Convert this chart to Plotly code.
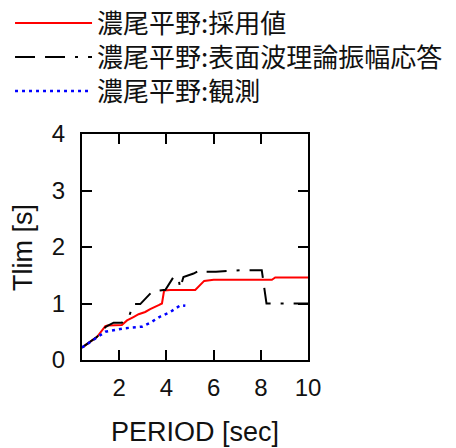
import plotly.graph_objects as go

# 濃尾平野:採用値
red_x = [0.42, 1.06, 1.41, 1.5, 2.11, 2.33, 2.6, 2.82, 3.1, 3.31, 3.67, 3.81, 3.9, 4.16, 5.22, 5.6, 6.0, 8.47, 8.61, 10.0]
red_y = [0.22, 0.41, 0.60, 0.61, 0.62, 0.70, 0.76, 0.81, 0.85, 0.90, 0.97, 1.00, 1.23, 1.24, 1.24, 1.40, 1.42, 1.42, 1.46, 1.46]

# 濃尾平野:表面波理論振幅応答
blk_x = [0.42, 1.06, 1.41, 1.48, 1.76, 2.11, 2.44, 2.6, 2.89, 3.39, 3.88, 3.95, 4.3, 4.51, 4.58, 4.72, 5.15, 5.43, 5.7, 6.1, 7.1, 8.04, 8.24, 10.0]
blk_y = [0.22, 0.41, 0.58, 0.60, 0.66, 0.66, 0.80, 0.99, 0.99, 1.21, 1.24, 1.24, 1.47, 1.45, 1.27, 1.47, 1.53, 1.59, 1.56, 1.56, 1.59, 1.59, 1.00, 1.00]

# 濃尾平野:観測
blu_x = [0.42, 1.06, 1.41, 2.18, 2.96, 3.31, 3.74, 4.16, 4.4, 4.6, 4.8]
blu_y = [0.22, 0.41, 0.50, 0.56, 0.59, 0.66, 0.77, 0.85, 0.92, 0.97, 0.96]

names = ["濃尾平野:採用値", "濃尾平野:表面波理論振幅応答", "濃尾平野:観測"]

x_ticks = [2, 4, 6, 8, 10]
y_ticks = [0, 1, 2, 3, 4]
x_title = "PERIOD [sec]"
y_title = "Tlim [s]"

fig = go.Figure()
fig.add_trace(go.Scatter(x=red_x, y=red_y, mode="lines", name=names[0], legend="legend",
                         line=dict(color="#ff0000", width=2)))
fig.add_trace(go.Scatter(x=blk_x, y=blk_y, mode="lines", name=names[1], legend="legend2",
                         line=dict(color="#000000", width=2, dash="20px,10px,20px,10px,3px,10px")))
fig.add_trace(go.Scatter(x=blu_x, y=blu_y, mode="lines", name=names[2], legend="legend3",
                         line=dict(color="#0000ff", width=2.5, dash="3px,4px")))

axis_common = dict(showline=True, linecolor="black", linewidth=2, mirror="ticks",
                   ticks="inside", ticklen=10, tickwidth=1.5, tickcolor="black",
                   showgrid=False, zeroline=False,
                   tickfont=dict(size=24, color="#111111", family="Liberation Sans"))

fig.update_xaxes(range=[0.42, 10], tickvals=x_ticks, ticktext=[str(v) for v in x_ticks],
                 ticklabelstandoff=5,
                 title=dict(text=x_title, font=dict(size=27, color="#111111", family="Liberation Sans"), standoff=22),
                 **axis_common)
fig.update_yaxes(range=[0, 4], tickvals=y_ticks, ticktext=[str(v) for v in y_ticks],
                 ticklabelstandoff=10,
                 **axis_common)

fig.add_annotation(text=y_title, xref="paper", yref="paper", x=-59 / 226, y=0.5,
                   xanchor="center", yanchor="middle", textangle=-90, showarrow=False,
                   font=dict(size=27, color="#111111", family="Liberation Sans"))

legend_common = dict(xref="container", yref="container", x=0.022, xanchor="left", yanchor="middle",
                     font=dict(size=26, color="#111111", family="Noto Sans CJK JP"),
                     itemwidth=77, bgcolor="rgba(0,0,0,0)")
row_y = [23, 57, 91]

fig.update_layout(
    width=456, height=448,
    margin=dict(l=82, r=148, t=134, b=88, autoexpand=False),
    paper_bgcolor="white", plot_bgcolor="white",
    legend=dict(y=1 - row_y[0] / 448, **legend_common),
    legend2=dict(y=1 - row_y[1] / 448, **legend_common),
    legend3=dict(y=1 - row_y[2] / 448, **legend_common),
    showlegend=True,
)

fig.write_html("out.html")
